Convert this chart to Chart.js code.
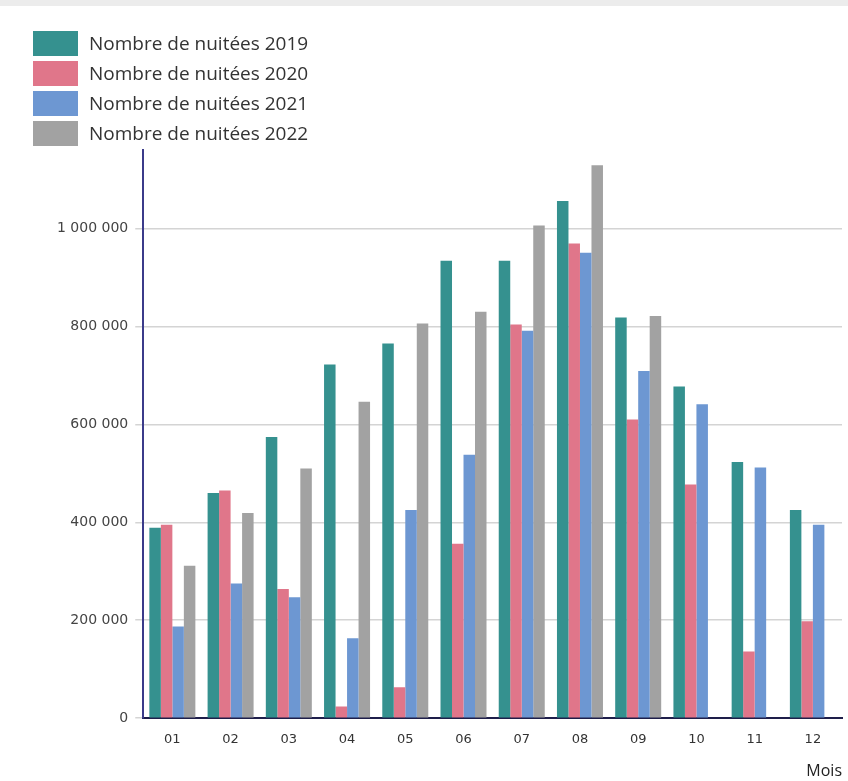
<!DOCTYPE html>
<html lang="fr">
<head>
<meta charset="utf-8">
<title>Nombre de nuitées par mois</title>
<script src="https://cdn.jsdelivr.net/npm/chart.js@4/dist/chart.umd.min.js"></script>
<style>
    html, body {
        margin: 0;
        padding: 0;
        background: #ffffff;
        overflow: hidden;
    }
    .page {
        position: relative;
        width: 848px;
        height: 781px;
        border-top: 6px solid #ececec;
        box-sizing: border-box;
    }
    .chart-box {
        position: absolute;
        left: 0;
        top: 0;
        width: 848px;
        height: 775px;
    }
    .legend {
        position: absolute;
        left: 33px;
        top: 22px;
        font-family: "Open Sans", "DejaVu Sans", sans-serif;
        font-size: 19px;
        color: #333333;
    }
    .legend-item {
        display: flex;
        align-items: center;
        height: 30px;
    }
    .legend-box {
        width: 45px;
        height: 25px;
        margin-right: 11px;
    }
</style>
</head>
<body>
<div class="page">
    <div class="chart-box"><canvas id="barChart"></canvas></div>
    <div class="legend" id="legend"></div>
</div>

<script>
// DATA: MOIS ET NOMBRE DE NUITEES PAR ANNEE
const months = ['01', '02', '03', '04', '05', '06', '07', '08', '09', '10', '11', '12'];
const seriesNames = ['Nombre de nuitées 2019', 'Nombre de nuitées 2020', 'Nombre de nuitées 2021', 'Nombre de nuitées 2022'];

const nights2019 = [389000, 460000, 574000, 722000, 765000, 934000, 934000, 1056000, 818000, 677000, 523000, 425000];
const nights2020 = [395000, 465000, 264000, 24000, 63000, 356000, 804000, 969000, 610000, 477000, 136000, 198000];
const nights2021 = [187000, 275000, 247000, 163000, 425000, 538000, 791000, 950000, 709000, 641000, 512000, 395000];
const nights2022 = [311000, 419000, 510000, 646000, 806000, 830000, 1006000, 1129000, 821000, null, null, null];

const yTicks = [0, 200000, 400000, 600000, 800000, 1000000];
const yMax = 1160000;

const seriesColors = ['#35918f', '#e0768a', '#6d97d2', '#a2a2a2'];

// FORMAT FRANCAIS: 1 000 000
function formatNumber(value) {
    return String(value).replace(/\B(?=(\d{3})+(?!\d))/g, ' ');
}

// MEMBUAT BAR CHART
function createBarChart() {
    const ctx = document.getElementById('barChart').getContext('2d');
    const allSeries = [nights2019, nights2020, nights2021, nights2022];

    const barChart = new Chart(ctx, {
        type: 'bar',
        data: {
            labels: months,
            datasets: allSeries.map((values, i) => ({
                label: seriesNames[i],
                data: values,
                backgroundColor: seriesColors[i],
                borderWidth: 0,
                barPercentage: 1.0,
                categoryPercentage: 0.79,
            })),
        },
        options: {
            responsive: true,
            maintainAspectRatio: false,
            animation: false,
            layout: {
                padding: { top: 144, left: 50, right: 6, bottom: 0 },
            },
            scales: {
                x: {
                    grid: { display: false, drawTicks: false },
                    border: { display: true, color: '#1e1e4a', width: 2 },
                    ticks: {
                        padding: 14,
                        color: '#333333',
                        font: { family: 'DejaVu Sans', size: 13 },
                    },
                    title: {
                        display: true,
                        text: 'Mois',
                        align: 'end',
                        color: '#222222',
                        padding: { top: 0, bottom: 0 },
                        font: { family: 'Open Sans', size: 16 },
                    },
                },
                y: {
                    min: 0,
                    max: yMax,
                    afterBuildTicks: (scale) => {
                        scale.ticks = yTicks.map(v => ({ value: v }));
                    },
                    grid: {
                        color: '#d4d4d4',
                        lineWidth: 1.5,
                        tickLength: 8,
                    },
                    border: { display: true, color: '#3b3b8a', width: 2 },
                    ticks: {
                        padding: 7,
                        color: '#444444',
                        font: { family: 'DejaVu Sans', size: 14 },
                        callback: (value) => formatNumber(value),
                    },
                },
            },
            plugins: {
                legend: { display: false },
                tooltip: { enabled: false },
            },
        },
    });

    return barChart;
}

// LEGENDE HTML A PARTIR DES DATASETS
function buildLegend(chart) {
    const legendElement = document.getElementById('legend');
    chart.data.datasets.forEach(ds => {
        const item = document.createElement('div');
        item.className = 'legend-item';
        const box = document.createElement('div');
        box.className = 'legend-box';
        box.style.background = ds.backgroundColor;
        const text = document.createElement('span');
        text.textContent = ds.label;
        item.appendChild(box);
        item.appendChild(text);
        legendElement.appendChild(item);
    });
}

const chart = createBarChart();
buildLegend(chart);
</script>
</body>
</html>
